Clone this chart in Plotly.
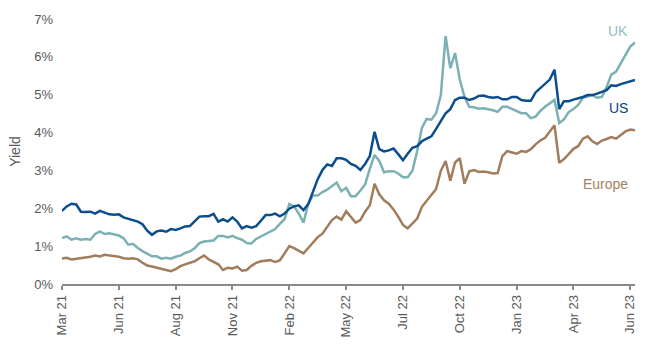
import plotly.graph_objects as go

# 10-year government bond yields (%), sampled at regular intervals, Mar 2021 – Jun 2023
us_yield = [
    1.93, 2.05, 2.12, 2.10, 1.91, 1.90, 1.91, 1.86, 1.93, 1.88,
    1.84, 1.83, 1.84, 1.76, 1.73, 1.69, 1.65, 1.58, 1.41, 1.30,
    1.39, 1.41, 1.38, 1.45, 1.43, 1.47, 1.52, 1.53, 1.65, 1.78,
    1.79, 1.79, 1.85, 1.65, 1.71, 1.65, 1.76, 1.65, 1.47, 1.53,
    1.49, 1.53, 1.67, 1.82, 1.82, 1.86, 1.79, 1.86, 1.99, 2.05,
    2.08, 1.95, 2.11, 2.43, 2.77, 3.01, 3.16, 3.12, 3.32, 3.32,
    3.28, 3.17, 3.12, 3.01, 3.17, 3.38, 4.02, 3.56, 3.50, 3.53,
    3.58, 3.43, 3.27, 3.44, 3.60, 3.64, 3.77, 3.84, 3.90, 4.10,
    4.31, 4.51, 4.62, 4.86, 4.92, 4.92, 4.86, 4.90, 4.97, 4.98,
    4.94, 4.92, 4.94, 4.88, 4.88, 4.94, 4.94, 4.86, 4.84, 4.84,
    5.06, 5.18, 5.29, 5.40, 5.66, 4.62, 4.83, 4.83, 4.87, 4.90,
    4.94, 4.99, 4.99, 5.03, 5.07, 5.12, 5.25, 5.23, 5.28, 5.32,
    5.35, 5.39,
]

uk_yield = [
    1.21, 1.26, 1.17, 1.21, 1.17, 1.19, 1.17, 1.32, 1.39, 1.32,
    1.34, 1.30, 1.28, 1.21, 1.04, 1.06, 0.95, 0.87, 0.79, 0.73,
    0.73, 0.67, 0.69, 0.67, 0.72, 0.75, 0.82, 0.86, 0.94, 1.08,
    1.12, 1.13, 1.15, 1.27, 1.27, 1.23, 1.27, 1.21, 1.17, 1.08,
    1.07, 1.19, 1.26, 1.33, 1.39, 1.45, 1.59, 1.71, 2.11, 2.05,
    1.86, 1.62, 2.12, 2.34, 2.34, 2.43, 2.49, 2.58, 2.68, 2.45,
    2.54, 2.32, 2.32, 2.47, 2.63, 3.04, 3.41, 3.25, 2.95, 2.98,
    2.98, 2.92, 2.82, 2.82, 2.99, 3.51, 4.12, 4.36, 4.34, 4.51,
    4.99, 6.55, 5.70, 6.10, 5.40, 4.94, 4.68, 4.67, 4.63, 4.64,
    4.62, 4.59, 4.55, 4.68, 4.68, 4.62, 4.57, 4.51, 4.51, 4.38,
    4.42, 4.57, 4.68, 4.77, 4.86, 4.25, 4.35, 4.54, 4.62, 4.73,
    4.92, 4.95, 4.99, 4.92, 4.94, 5.20, 5.53, 5.61, 5.84, 6.05,
    6.27, 6.38,
]

europe_yield = [
    0.67, 0.69, 0.65, 0.67, 0.69, 0.69, 0.72, 0.75, 0.73, 0.77,
    0.75, 0.73, 0.72, 0.68, 0.67, 0.68, 0.65, 0.56, 0.49, 0.46,
    0.43, 0.40, 0.37, 0.34, 0.39, 0.47, 0.52, 0.56, 0.60, 0.68,
    0.75, 0.65, 0.58, 0.52, 0.37, 0.43, 0.41, 0.46, 0.35, 0.37,
    0.48, 0.56, 0.60, 0.62, 0.63, 0.58, 0.62, 0.81, 1.00, 0.95,
    0.87, 0.81, 0.95, 1.10, 1.24, 1.33, 1.52, 1.69, 1.78, 1.70,
    1.92, 1.78, 1.62, 1.69, 1.91, 2.08, 2.65, 2.37, 2.21, 2.12,
    1.97, 1.78, 1.56, 1.47, 1.59, 1.73, 2.04, 2.19, 2.34, 2.51,
    2.99, 3.25, 2.73, 3.21, 3.32, 2.65, 2.98, 3.01, 2.96, 2.97,
    2.95, 2.92, 2.93, 3.38, 3.51, 3.47, 3.44, 3.51, 3.49, 3.56,
    3.69, 3.79, 3.86, 4.03, 4.19, 3.20, 3.30, 3.43, 3.57, 3.64,
    3.84, 3.90, 3.77, 3.70, 3.79, 3.83, 3.88, 3.84, 3.93, 4.03,
    4.08, 4.06,
]

tick_labels = ["Mar 21", "Jun 21", "Aug 21", "Nov 21", "Feb 22", "May 22",
               "Jul 22", "Oct 22", "Jan 23", "Apr 23", "Jun 23"]
y_tick_values = [0, 1, 2, 3, 4, 5, 6, 7]

POINTS_PER_TICK = 12
x_index = list(range(len(us_yield)))
tick_positions = [k * POINTS_PER_TICK for k in range(len(tick_labels))]

COL_US = "#0b4e8e"
COL_UK = "#7cb1b3"
COL_EU = "#a17d5b"
FONT = "Liberation Sans, Arial, sans-serif"

fig = go.Figure()
for name, vals, col in [("Europe", europe_yield, COL_EU),
                        ("UK", uk_yield, COL_UK),
                        ("US", us_yield, COL_US)]:
    fig.add_trace(go.Scatter(x=x_index, y=vals, mode="lines", name=name,
                             line=dict(color=col, width=2.5),
                             hoverinfo="skip"))

# Series labels at the right end of the lines
label_x = x_index[-1] - 1
for text, yv, col in [("UK", 6.69, "#8fc0c1"),
                      ("US", 4.66, "#0d3f78"),
                      ("Europe", 2.63, "#a5825f")]:
    fig.add_annotation(x=label_x, y=yv, xref="x", yref="y", text=text,
                       showarrow=False, xanchor="right", yanchor="middle",
                       font=dict(family=FONT, size=14, color=col))

fig.update_layout(
    width=650, height=350,
    margin=dict(l=62, r=15, t=16, b=65),
    paper_bgcolor="white", plot_bgcolor="white",
    showlegend=False,
    font=dict(family=FONT, size=13, color="#595959"),
    xaxis=dict(
        range=[0, x_index[-1]],
        tickvals=tick_positions, ticktext=tick_labels,
        tickangle=-90,
        showgrid=False, zeroline=False,
        showline=True, linecolor="#8a8a8a", linewidth=1.5,
        ticks="outside", ticklen=4, tickcolor="#8a8a8a", tickwidth=1.5,
        tickfont=dict(size=13, color="#595959"),
    ),
    yaxis=dict(
        range=[0, 7],
        tickvals=y_tick_values,
        ticktext=[f"{v}%" for v in y_tick_values],
        showgrid=False, zeroline=False, showline=False,
        ticks="", ticklabelstandoff=8,
        tickfont=dict(size=13, color="#595959"),
        title=dict(text="Yield", standoff=10,
                   font=dict(size=14, color="#595959")),
    ),
)

fig.write_html("out.html")
